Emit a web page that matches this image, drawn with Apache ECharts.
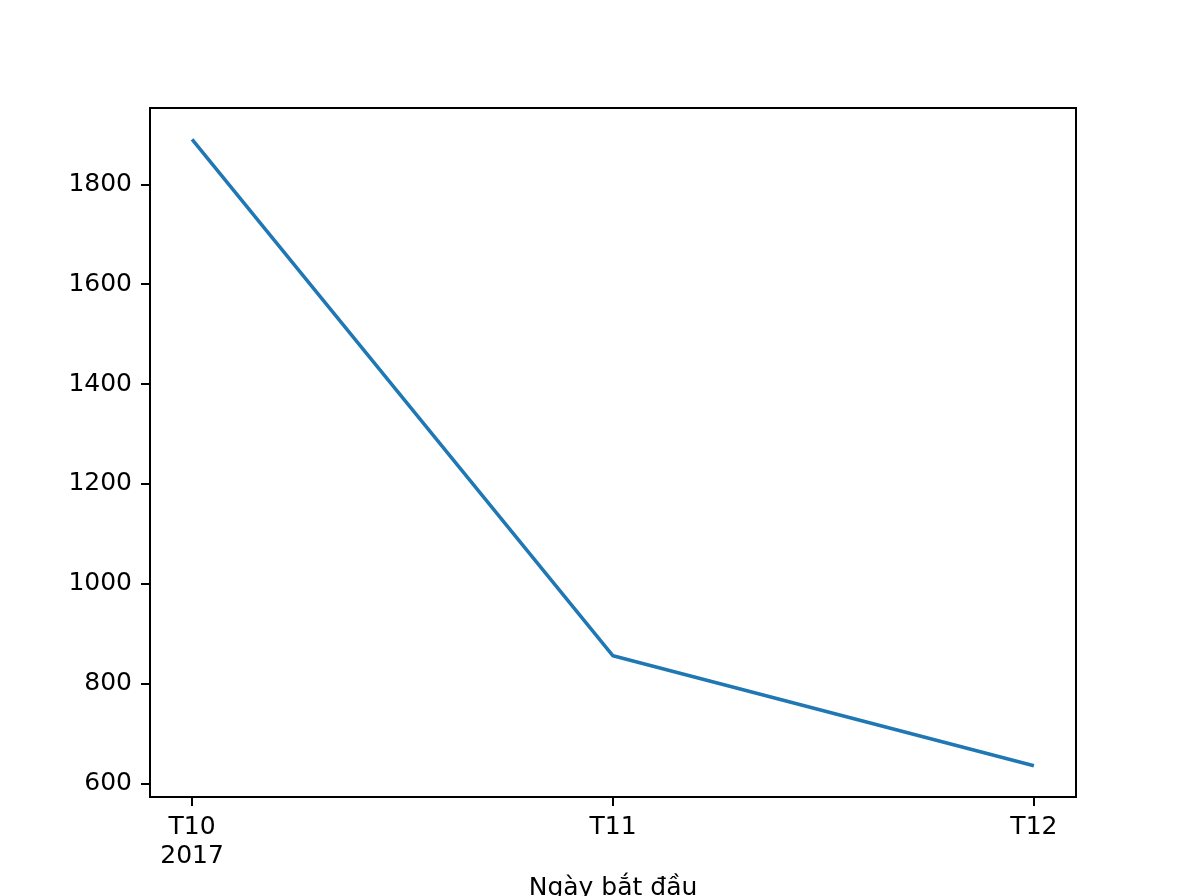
<!DOCTYPE html>
<html>
<head>
<meta charset="utf-8">
<script src="https://cdn.jsdelivr.net/npm/echarts@6/dist/echarts.min.js"></script>
<style>
html,body{margin:0;padding:0;background:#fff;}
#chart{width:1195px;height:896px;}
</style>
</head>
<body>
<div id="chart"></div>
<script>
var categories = ['T10', 'T11', 'T12'];
var firstYear = '2017';
var values = [1890, 856, 636];
var yTicks = [600, 800, 1000, 1200, 1400, 1600, 1800];
var xLabelText = 'Ngày bắt đầu';

var positions = categories.map(function (c, i) { return i; });
var lo = Math.min.apply(null, values), hi = Math.max.apply(null, values);
var pad = (hi - lo) * 0.05;
var xpad = (positions.length - 1) * 0.05;

var chart = echarts.init(document.getElementById('chart'), null, {renderer: 'canvas'});
var font = 'DejaVu Sans';
chart.setOption({
  animation: false,
  backgroundColor: '#fff',
  grid: {left: 150, right: 119, top: 108, bottom: 99, containLabel: false, outerBoundsMode: 'none',
         show: true, borderColor: '#000', borderWidth: 2, backgroundColor: 'transparent'},
  xAxis: {
    type: 'value',
    min: -xpad, max: positions.length - 1 + xpad,
    name: xLabelText,
    nameLocation: 'middle',
    nameGap: 76,
    nameTextStyle: {fontFamily: font, fontSize: 25, color: '#000'},
    axisLine: {show: true, onZero: false, lineStyle: {color: '#000', width: 2}},
    axisTick: {show: true, length: 9, inside: false, customValues: positions, lineStyle: {color: '#000', width: 2}},
    splitLine: {show: false},
    axisLabel: {
      customValues: positions,
      margin: 16,
      fontFamily: font, fontSize: 25, color: '#000', lineHeight: 29,
      formatter: function (v) {
        var i = Math.round(v);
        return i === 0 ? categories[i] + '\n' + firstYear : categories[i];
      }
    }
  },
  yAxis: {
    type: 'value',
    min: lo - pad, max: hi + pad,
    axisLine: {show: true, onZero: false, lineStyle: {color: '#000', width: 2}},
    axisTick: {show: true, length: 9, customValues: yTicks, lineStyle: {color: '#000', width: 2}},
    splitLine: {show: false},
    axisLabel: {customValues: yTicks, margin: 18, fontFamily: font, fontSize: 25, color: '#000',
      formatter: function (v) { return String(Math.round(v)); }}
  },
  series: [{
    type: 'line',
    data: positions.map(function (p, i) { return [p, values[i]]; }),
    showSymbol: false,
    lineStyle: {color: '#1f77b4', width: 3.5},
    itemStyle: {color: '#1f77b4'}
  }]
});
</script>
</body>
</html>
